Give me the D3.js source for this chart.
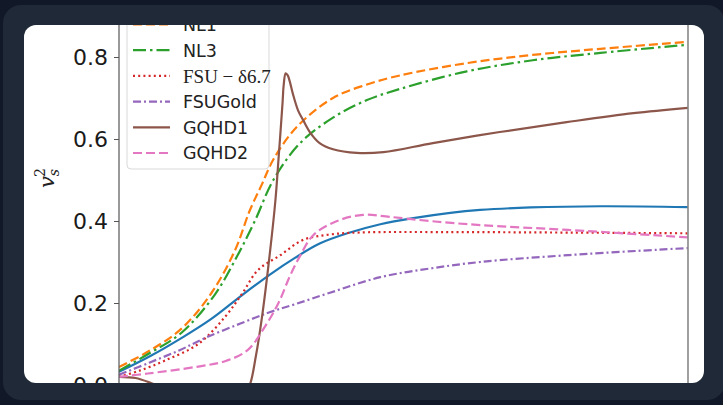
<!DOCTYPE html>
<html>
<head>
<meta charset="utf-8">
<script src="https://cdn.jsdelivr.net/npm/d3@7/dist/d3.min.js"></script>
<style>
  html, body { margin: 0; padding: 0; background: #111827; }
  svg { display: block; }
</style>
</head>
<body>
<svg id="chart" width="723" height="405"></svg>
<script>
// ---------- data ----------
const yTicks = [0.0, 0.2, 0.4, 0.6, 0.8];
const xTicks = [1, 2, 3, 4, 5, 6];

const blueX = [0.47,0.77,1.08,1.36,1.67,1.94,2.18,2.42,2.69,3.01,3.33,3.69,3.98,4.47,5.15,6.0];
const blueY = [0.032,0.07,0.115,0.16,0.22,0.27,0.31,0.345,0.37,0.392,0.407,0.42,0.427,0.433,0.436,0.434];

const nl1X = [0.47,0.77,1.08,1.37,1.60,1.74,1.86,1.97,2.20,2.55,2.88,3.20,3.85,4.49,5.15,6.0];
const nl1Y = [0.044,0.084,0.138,0.225,0.33,0.425,0.49,0.55,0.63,0.70,0.733,0.755,0.785,0.805,0.82,0.837];

const nl3X = [0.47,0.77,1.08,1.40,1.62,1.79,1.97,2.23,2.55,2.88,3.20,3.85,4.49,5.15,6.0];
const nl3Y = [0.035,0.078,0.128,0.22,0.315,0.40,0.50,0.59,0.652,0.695,0.722,0.765,0.792,0.81,0.83];

const fsuX = [0.47,0.67,0.92,1.24,1.50,1.67,1.82,2.04,2.26,2.52,2.81,3.69,4.66,6.0];
const fsuY = [0.02,0.035,0.06,0.10,0.166,0.224,0.28,0.317,0.354,0.367,0.372,0.373,0.372,0.37];

const goldX = [0.47,0.77,1.06,1.31,1.65,1.94,2.18,2.52,3.01,3.49,3.98,4.85,6.0];
const goldY = [0.025,0.055,0.085,0.115,0.15,0.178,0.197,0.225,0.263,0.284,0.30,0.317,0.334];

const gq1X = [0.47,0.63,0.77,0.92,1.26,1.55,1.70,1.74,1.80,1.86,1.94,1.99,2.02,2.06,2.07,2.09,2.11,2.13,2.16,2.21,2.26,2.33,2.42,2.55,2.78,3.04,3.52,4.17,4.82,5.47,6.0];
const gq1Y = [0.02,0.017,0.006,-0.01,-0.04,-0.03,-0.012,0.0,0.07,0.166,0.33,0.45,0.55,0.69,0.73,0.76,0.755,0.74,0.71,0.67,0.646,0.615,0.59,0.575,0.566,0.568,0.59,0.617,0.641,0.663,0.676];

const gq2X = [0.47,0.75,1.24,1.50,1.72,1.89,2.02,2.13,2.23,2.36,2.59,2.84,3.10,3.49,3.98,4.85,6.0];
const gq2Y = [0.02,0.028,0.045,0.058,0.085,0.143,0.2,0.265,0.315,0.366,0.40,0.415,0.41,0.40,0.39,0.378,0.36];

const seriesNames = ["", "NL1", "NL3", "FSU − δ6.7", "FSUGold", "GQHD1", "GQHD2"];
const seriesColors = ["#1f77b4", "#ff7f0e", "#2ca02c", "#d62728", "#9467bd", "#8c564b", "#e377c2"];
const seriesX = [blueX, nl1X, nl3X, fsuX, goldX, gq1X, gq2X];
const seriesY = [blueY, nl1Y, nl3Y, fsuY, goldY, gq1Y, gq2Y];
const seriesDash = [null, "9,4", "13,4,2.5,4", "2,3.2", "8,3,2,3", null, "9,4"];

// ---------- drawing ----------
const svg = d3.select("#chart");

svg.append("rect").attr("x", 0).attr("y", 0).attr("width", 723).attr("height", 405).attr("fill", "#111827");
svg.append("rect").attr("x", 3).attr("y", 5).attr("width", 722).attr("height", 395).attr("rx", 18).attr("fill", "#1f2937");

const card = { x: 24, y: 25, w: 680, h: 358 };
const defs = svg.append("defs");
defs.append("clipPath").attr("id", "cardClip")
  .append("rect").attr("x", card.x).attr("y", card.y).attr("width", card.w).attr("height", card.h).attr("rx", 12);
defs.append("clipPath").attr("id", "plotClip")
  .append("rect").attr("x", 119).attr("y", 0).attr("width", 569).attr("height", 420);

svg.append("rect").attr("x", card.x).attr("y", card.y).attr("width", card.w).attr("height", card.h).attr("rx", 12).attr("fill", "#ffffff");

const g = svg.append("g").attr("clip-path", "url(#cardClip)");

const x = d3.scaleLinear().domain([0.47, 6.0]).range([119, 688]);
const y = d3.scaleLinear().domain([0, 0.8]).range([385, 57]);

// lines
const plot = g.append("g").attr("clip-path", "url(#plotClip)");
const line = d3.line().x(d => x(d[0])).y(d => y(d[1])).curve(d3.curveCatmullRom.alpha(0.5));
seriesX.forEach((xs, i) => {
  const pts = xs.map((v, k) => [v, seriesY[i][k]]);
  plot.append("path").datum(pts)
    .attr("d", line)
    .attr("fill", "none")
    .attr("stroke", seriesColors[i])
    .attr("stroke-width", 2.2)
    .attr("stroke-dasharray", seriesDash[i])
    .attr("stroke-linecap", "butt");
});

// spines
g.append("line").attr("x1", 119).attr("x2", 119).attr("y1", 0).attr("y2", 405).attr("stroke", "#555").attr("stroke-width", 1.2);
g.append("line").attr("x1", 688).attr("x2", 688).attr("y1", 0).attr("y2", 405).attr("stroke", "#888").attr("stroke-width", 1.6);

// y axis
const yAxis = g.append("g").attr("transform", "translate(119,0)")
  .call(d3.axisLeft(y).tickValues(yTicks).tickFormat(d3.format(".1f")).tickSize(5).tickPadding(6));
yAxis.select(".domain").remove();
yAxis.selectAll(".tick line").attr("stroke", "#555").attr("stroke-width", 1.2);
yAxis.selectAll(".tick text").attr("font-family", "DejaVu Sans").attr("font-size", 22).attr("fill", "#1a1a1a");

// x axis (cut off at the bottom, as in the reference)
const xAxis = g.append("g").attr("transform", "translate(0,388)")
  .call(d3.axisBottom(x).tickValues(xTicks).tickFormat("").tickSize(5));
xAxis.select(".domain").attr("stroke", "#555");
xAxis.selectAll(".tick line").attr("stroke", "#555");

// y label  v_s^2
const yl = g.append("text")
  .attr("transform", "translate(54,178) rotate(-90)")
  .attr("text-anchor", "middle")
  .attr("font-family", "DejaVu Serif")
  .attr("font-style", "italic")
  .attr("font-size", 21)
  .attr("fill", "#222");
yl.append("tspan").text("v");
yl.append("tspan").attr("font-size", 14).attr("dy", 5).text("s");
yl.append("tspan").attr("font-size", 14).attr("font-style", "normal").attr("dx", -8).attr("dy", -14).text("2");

// legend
const leg = g.append("g");
leg.append("rect").attr("x", 127).attr("y", 2).attr("width", 142).attr("height", 167).attr("rx", 4)
  .attr("fill", "#ffffff").attr("fill-opacity", 0.85).attr("stroke", "#d9d9d9").attr("stroke-width", 1);
const rowY0 = 24.5, rowStep = 25.7;
seriesNames.forEach((name, i) => {
  if (i === 0) return;
  const cy = rowY0 + (i - 1) * rowStep;
  leg.append("line").attr("x1", 133).attr("x2", 170).attr("y1", cy).attr("y2", cy)
    .attr("stroke", seriesColors[i]).attr("stroke-width", 2.2)
    .attr("stroke-dasharray", seriesDash[i]);
  const isSerif = name.startsWith("FSU −");
  leg.append("text").attr("x", 183).attr("y", cy).attr("dy", "0.36em")
    .attr("font-family", isSerif ? "Liberation Serif" : "DejaVu Sans")
    .attr("font-size", isSerif ? 19 : 17.5)
    .attr("fill", "#222")
    .text(name);
});
</script>
</body>
</html>
